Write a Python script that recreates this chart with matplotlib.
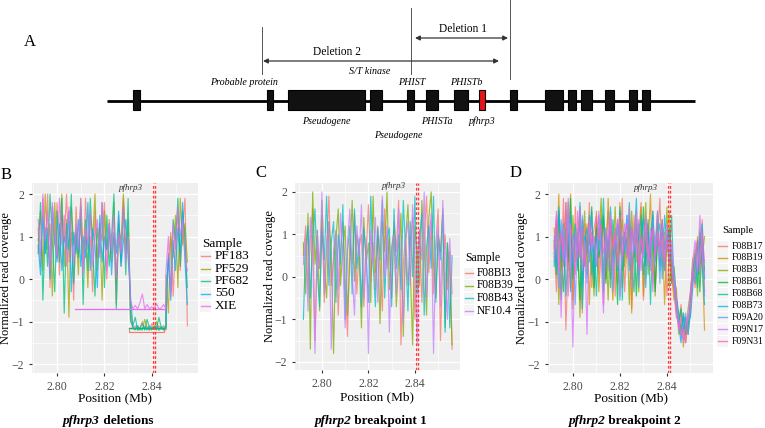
import numpy as np
import matplotlib
matplotlib.use("Agg")
import matplotlib.pyplot as plt
from matplotlib.patches import Rectangle

plt.rcParams['font.family'] = ['Liberation Serif', 'DejaVu Serif']

# ---------------- Panel A (schematic, layout units) ----------------
gene_start = [133, 267, 288, 370, 407, 426, 454, 479, 510, 545, 568, 581, 605, 629, 642]
gene_end   = [140, 273, 365, 382, 414, 438, 468, 485, 517, 563, 576, 592, 614, 637, 650]
gene_red   = [False]*7 + [True] + [False]*7
labels_above = [("Probable protein", 244), ("S/T kinase", 370), ("PHIST", 412), ("PHISTb", 466)]
labels_below = [("Pseudogene", 326, 121), ("PHISTa", 437, 121), ("pfhrp3", 482, 121), ("Pseudogene", 398, 135)]

# ---------------- Panel B: pfhrp3 deletions ----------------
B_samples = ["PF183", "PF529", "PF682", "550", "XIE"]
B_colors = ["#F8766D", "#A3A500", "#00BF7D", "#00B0F6", "#E76BF3"]
B_left_start, B_del_start, B_right_start, B_step = 2.792, 2.832, 2.846, 0.001
B_left = [
    [1.2, 0.3, 1.9, 0.6, 2.0, -0.2, 1.4, 0.8, 1.8, 0.1, 1.5, 0.9, 2.0, 0.4, 1.1, -0.5, 1.7, 0.6, 1.3, 0.2, 1.9, 0.7, 1.0, -0.3, 1.6, 0.5, 1.2, 0.9, 1.8, 0.0, 1.4, 0.6, 1.0, -0.6, 1.5, 0.3, 1.9, 0.8, 1.1, -0.9],
    [0.9, 1.6, 0.2, 2.0, 0.7, 1.3, -0.4, 1.8, 0.5, 1.1, 2.0, 0.3, 1.4, -0.9, 1.7, 0.8, 1.2, 0.1, 1.9, 0.6, 1.0, -0.2, 1.5, 0.9, 2.0, 0.2, 1.3, -0.5, 1.6, 0.7, 1.1, 0.4, 1.8, -0.1, 1.2, 0.9, 2.0, 0.5, 1.4, -0.7],
    [0.6, 1.8, -0.5, 1.2, 0.3, 2.0, 0.9, -0.3, 1.6, 0.4, 1.9, -0.8, 1.3, 0.7, 2.0, -0.1, 1.1, 0.5, 1.7, -0.6, 1.4, 0.2, 1.9, 0.8, -0.4, 1.2, 0.6, 1.8, -0.2, 1.5, 0.3, 1.0, 2.0, -0.7, 1.3, 0.4, 1.7, 0.1, 1.9, -1.0],
    [0.8, 0.1, 1.5, 0.6, 1.2, 0.0, 1.7, 0.9, 0.4, 1.3, 0.2, 1.0, 0.7, 1.6, -0.3, 1.1, 0.6, 1.4, 0.3, 1.0, 0.5, 1.8, 0.2, 1.2, 0.8, -0.2, 1.5, 0.4, 1.0, 0.7, 1.3, 0.1, 1.1, 0.6, 1.6, 0.3, 0.9, 1.4, 0.5, -0.4],
    [1.4, 0.6, 2.0, 0.9, 1.6, 0.2, 1.8, 1.1, 0.5, 1.9, 0.8, 1.5, 0.3, 1.7, 1.0, 0.4, 1.3, 0.7, 1.9, 0.1, 1.2, 0.8, 1.6, 0.3, 1.0, 1.4, 0.5, 1.8, 0.9, 0.2, 1.3, 0.7, 1.5, 0.0, 1.1, 0.6, 1.7, 0.4, 1.0, -0.5],
]
B_del = [
    [-1.18, -1.1, -1.2, -1.15, -1.0, -1.18, -1.12, -1.2, -1.05, -1.17, -1.2, -1.1, -1.18, -1.15, -1.2],
    [-1.15, -1.2, -1.1, -1.18, -1.2, -0.95, -1.15, -1.2, -1.12, -1.18, -1.0, -1.2, -1.15, -1.1, -1.18],
    [-1.1, -0.9, -1.2, -1.15, -1.05, -1.2, -0.95, -1.15, -1.2, -1.1, -1.18, -0.9, -1.15, -1.2, -1.1],
    [-1.12, -1.18, -1.1, -1.2, -1.15, -1.12, -1.2, -1.1, -1.18, -1.15, -1.1, -1.2, -1.12, -1.18, -1.15],
    [-0.7, -0.62, -0.7, -0.55, -0.35, -0.7, -0.6, -0.7, -0.65, -0.7, -0.58, -0.7, -0.68, -0.6, -0.7],
]
B_right = [
    [-0.6, 0.4, 1.1, -0.4, 0.8, 1.6, 0.2, 1.2, 1.9, -1.1],
    [0.1, -0.8, 1.0, 0.5, 1.5, -0.2, 1.9, 0.8, 1.3, 0.4],
    [-0.9, 0.6, -0.3, 1.4, 0.9, 1.9, 0.3, 1.6, 0.9, -0.2],
    [-0.3, 0.5, -0.5, 0.9, 0.2, 1.2, 0.6, 1.8, 0.4, -0.6],
    [0.2, 1.0, -0.4, 1.3, 0.7, 1.7, 1.0, 1.4, 0.5, 0.2],
]
B_xie_segment = (2.8075, 2.8455, -0.71)
B_del_rect = (2.8305, 2.845, -1.24, -1.15)
B_del_level = -1.16

# ---------------- Panel C: pfhrp2 breakpoint 1 ----------------
C_samples = ["F08BI3", "F08B39", "F08B43", "NF10.4"]
C_colors = ["#F8766D", "#7CAE00", "#00BFC4", "#C77CFF"]
C_start, C_step = 2.792, 0.001
C_values = [
    [0.5, 1.2, -0.3, 0.9, 1.6, -1.5, 0.7, 0.2, 1.4, -0.6, 0.8, 1.9, -0.2, 0.4, 1.1, -0.9, 0.6, 1.3, 0.0, -1.4, 0.9, 0.3, 1.5, -0.4, 0.7, 1.0, -0.7, 0.5, 1.7, -0.1, 0.8, -0.3, 1.2, 0.4, -0.8, 1.6, 0.2, 0.9, -0.5, 1.3, 0.6, 1.8, -1.6, 0.3, 1.0, -0.2, 0.7, 1.4, -1.0, 0.5, 1.1, -0.6, 0.9, 1.9, 0.1, 1.3, -0.4, 0.8, 1.6, -1.5, 0.4, 1.0, -0.3, 0.6, -1.7],
    [0.8, -0.4, 1.5, -1.7, 2.0, 0.3, 1.1, -0.8, 1.8, 0.2, -0.5, 1.3, 0.6, -1.8, 0.9, 1.6, -0.2, 0.7, 1.2, -0.9, 0.4, 1.8, -0.1, 1.0, 0.5, -1.2, 1.4, 0.3, 0.8, -0.6, 1.9, 0.1, 0.9, -1.1, 1.3, 0.6, 2.0, -0.3, 0.7, 1.1, -0.7, 0.4, 1.5, -1.4, 0.9, 1.7, 0.2, -1.6, 1.2, 0.5, -0.2, 1.8, 0.7, -0.9, 1.4, 2.0, 0.3, -0.5, 1.0, 0.6, 1.6, -1.2, 0.8, 0.1, -1.6],
    [-1.0, 0.7, 1.2, -0.5, 0.9, 1.6, 0.1, -0.7, 1.1, 0.4, 1.9, -0.2, 0.8, 1.3, -0.6, 1.0, 0.3, 1.7, -1.0, 0.6, 1.2, -0.4, 1.6, 0.2, 0.9, -0.7, 1.15, 0.5, -0.6, 1.9, 0.3, -0.7, 1.15, 0.4, 1.8, -0.5, 0.9, 1.15, -0.7, 1.6, 0.2, 1.0, -0.3, 1.8, 0.6, -0.8, 1.3, 0.0, 1.9, -0.4, 0.9, 1.5, -0.9, 0.7, 1.2, 0.2, 1.9, -0.6, 1.0, 0.4, 1.5, -1.3, 0.8, -1.2, 0.5],
    [0.3, 0.9, -0.8, 1.4, 0.5, -1.8, 1.1, 0.2, 2.0, -0.4, 0.7, 1.3, -1.7, 0.6, 1.0, -0.3, 1.5, 0.4, -1.2, 0.8, 1.6, 0.1, -0.9, 1.2, 0.5, 1.7, -0.5, 0.9, -1.8, 1.1, 0.3, 1.4, -0.6, 0.8, 1.9, 0.0, 1.2, -1.3, 0.6, 1.0, -0.4, 1.6, 0.3, -1.1, 0.9, 1.3, -0.2, 1.7, 0.5, -1.6, 1.1, 0.4, 2.0, -0.5, 0.8, 1.5, -1.8, 0.6, 1.2, -0.7, 1.8, 0.2, -1.0, 0.9, -0.4],
]

# ---------------- Panel D: pfhrp2 breakpoint 2 ----------------
D_samples = ["F08B17", "F08B19", "F08B3", "F08B61", "F08B68", "F08B73", "F09A20", "F09N17", "F09N31"]
D_colors = ["#F8766D", "#D39200", "#93AA00", "#00BA38", "#00C19F", "#00B9E3", "#619CFF", "#DB72FB", "#FF61C3"]
D_start, D_step = 2.792, 0.001
D_values = [
    [0.8, -0.3, 1.4, 0.2, 1.9, -1.2, 0.6, 1.1, -0.5, 1.7, 0.3, 0.9, -0.8, 1.3, 0.5, 1.8, -0.2, 0.7, 1.2, 0.1, 1.5, -0.6, 0.9, 1.6, 0.0, 1.1, -0.4, 1.4, 0.6, 1.9, -0.3, 0.8, 1.2, -0.7, 1.5, 0.4, 1.0, 1.8, -0.5, 0.7, 1.3, 0.2, 1.6, -0.2, 0.9, 1.9, 0.3, 1.1, -0.4, 0.6, 0.2, -0.3, -0.8, -1.1, -0.6, -1.4, -0.9, -1.2, -0.5, 0.3, -0.2, 0.8, 0.1, 1.4, -0.3],
    [1.2, 0.4, 2.0, -0.4, 0.9, 1.5, 0.2, 2.0, -0.7, 1.0, 0.5, 1.7, -0.1, 0.8, 1.3, -0.6, 1.1, 0.4, 1.6, -0.3, 0.7, 1.4, 0.0, 1.9, 0.6, -0.5, 1.2, 0.3, 1.8, -0.2, 1.0, 0.5, 1.5, -0.8, 0.9, 1.3, 0.2, 1.7, -0.4, 1.1, 0.6, 2.0, -0.1, 0.8, 1.4, 0.3, 1.2, -0.6, 0.9, 1.6, 0.1, -0.5, -0.2, -1.3, -0.7, -1.6, -1.0, -1.3, -0.4, 0.5, -0.1, 1.0, 0.3, 0.6, -1.2],
    [0.5, 1.3, -0.6, 1.0, 0.3, 1.8, 0.7, -0.2, 1.5, 0.4, 1.1, -0.9, 0.8, 1.6, 0.1, 1.2, 0.5, -0.4, 1.4, 0.8, 1.9, 0.2, 1.0, -0.5, 1.3, 0.6, 1.7, -0.1, 0.9, 1.4, 0.3, 1.1, -0.6, 1.6, 0.5, 1.0, -0.3, 1.2, 0.7, 1.8, 0.1, 0.9, 1.3, -0.4, 1.5, 0.6, 1.0, 0.2, 1.7, -0.2, 0.4, 0.0, -0.6, -0.9, -1.3, -0.8, -1.5, -0.7, -0.3, 0.2, 0.7, -0.4, 1.2, 0.5, 1.0],
    [0.9, 0.1, 1.6, 0.6, -0.3, 1.2, 0.4, 1.9, 0.0, 1.1, 0.7, -0.5, 1.4, 0.3, 1.0, 0.8, 1.7, -0.2, 1.2, 0.5, 0.9, 1.5, -0.1, 0.7, 1.3, 0.4, 1.0, -0.6, 1.6, 0.2, 1.1, 0.8, 1.4, 0.0, 1.0, -0.4, 1.3, 0.6, 1.7, 0.3, 1.1, 0.5, 1.5, -0.3, 1.0, 0.7, 1.4, 0.2, 0.9, 1.2, -0.1, 0.3, -0.4, -0.8, -1.2, -0.9, -1.3, -1.1, -0.6, 0.0, 0.4, 0.9, -0.3, 0.8, 0.2],
    [0.3, 1.4, 0.7, -0.5, 1.1, 0.5, 1.8, -0.3, 0.9, 1.3, 0.2, 1.6, -0.7, 1.0, 0.6, 1.5, 0.1, 0.8, -0.4, 1.2, 0.7, 1.9, 0.3, 1.0, -0.2, 1.4, 0.8, 0.2, 1.7, -0.5, 1.1, 0.6, 1.8, 0.4, -0.3, 1.2, 0.9, 1.5, 0.1, 0.8, 1.4, -0.6, 1.0, 0.5, 1.6, 0.2, 1.3, 0.7, 1.0, 0.4, 1.5, -0.2, -0.5, -1.0, -0.7, -1.2, -0.9, -1.3, -0.8, 0.1, 0.6, -0.2, 1.1, 0.3, -0.6],
    [1.0, 0.2, 1.7, 0.5, 1.3, -0.4, 0.9, 1.5, 0.3, 1.1, 0.6, 1.8, -0.2, 0.8, 1.2, 0.4, 1.6, 0.0, 1.0, 0.7, 1.4, -0.3, 1.1, 0.5, 1.7, 0.2, 0.9, 1.3, -0.5, 1.0, 0.6, 1.5, 0.3, 1.2, 0.8, 1.9, 0.1, 0.9, 1.4, -0.2, 1.1, 0.7, 1.6, 0.4, 1.0, 1.3, 0.0, 1.5, 0.8, 1.1, 0.5, 0.2, -0.7, -1.1, -1.5, -0.8, -1.2, -1.0, -0.9, -0.2, 0.5, 0.1, 0.9, 1.3, 0.0],
    [0.6, 1.1, -0.2, 1.4, 0.4, 0.9, 1.6, 0.2, 1.0, -0.6, 1.2, 0.5, 1.5, 0.8, -0.1, 1.3, 0.6, 1.0, 0.3, 1.5, 0.9, 0.1, 1.2, 0.6, 1.6, -0.3, 1.0, 0.7, 1.3, 0.4, 0.9, 1.5, 0.2, 1.1, 0.6, 1.4, -0.2, 1.0, 0.5, 1.2, 0.8, 0.3, 1.4, 0.7, 1.1, -0.1, 1.3, 0.6, 1.0, 0.3, 0.8, -0.1, -0.6, -0.9, -1.4, -1.1, -0.8, -1.3, -0.6, 0.2, -0.1, 0.7, 0.4, 1.0, -0.4],
    [0.4, 1.6, 0.8, -0.9, 1.2, 0.3, 1.9, 0.6, -1.6, 1.1, 0.5, 1.7, 0.2, 0.9, -1.3, 1.4, 0.7, 1.0, 0.3, 1.6, 0.5, -0.8, 1.2, 0.9, 1.5, 0.1, 1.0, 1.4, -0.4, 0.8, 1.3, 0.5, 1.7, -0.2, 1.1, 0.6, 1.4, 0.2, 0.9, 1.5, 0.4, 1.2, -0.3, 0.8, 1.6, 0.5, 1.0, 0.2, 1.3, 0.6, 0.9, 0.1, -0.4, -1.2, -0.9, -1.5, -1.1, -0.8, -0.3, 0.4, 0.9, 0.2, 1.5, 0.6, 0.1],
    [0.7, 1.5, 0.2, 1.1, 0.6, 1.8, -0.4, 1.3, 0.8, 0.1, 1.6, 0.5, 1.2, 0.3, 0.9, 1.4, 0.8, 1.2, 1.5, 0.9, 1.3, 0.6, 1.0, 0.2, 1.4, 0.7, 1.1, 0.3, 1.5, 0.5, 1.0, 1.3, 0.4, 1.2, 0.8, 1.6, 0.2, 1.0, 0.6, 1.4, 0.3, 0.9, 1.2, 0.5, 1.1, 0.7, 1.4, 0.4, 0.9, 0.5, 0.2, -0.2, -0.9, -1.0, -1.3, -1.2, -1.5, -0.9, -0.7, 0.0, 0.5, 0.9, 0.2, 1.1, 0.4],
]

pfhrp3_bounds = [2.8403, 2.8413]
x_ticks = [2.80, 2.82, 2.84]
y_ticks = [-2, -1, 0, 1, 2]

W, H = 765, 428
fig = plt.figure(figsize=(W/100, H/100), dpi=100)
fig.patch.set_facecolor("white")

ov = fig.add_axes([0, 0, 1, 1])
ov.set_xlim(0, W); ov.set_ylim(H, 0); ov.axis("off")

# ---- panel A drawing ----
ov.text(30, 42, "A", fontsize=12, va="center", ha="center")
ov.plot([107, 695], [101, 101], color="black", lw=2, solid_capstyle="butt", zorder=1)
for s, e, r in zip(gene_start, gene_end, gene_red):
    ov.add_patch(Rectangle((s, 90), e - s, 20, facecolor="#E8141C" if r else "#111111",
                           edgecolor="black", lw=0.8, zorder=2))
for txt, x in labels_above:
    yy = 71 if txt == "S/T kinase" else 82
    ov.text(x, yy, txt, fontsize=7.2, style="italic", ha="center", va="center")
for txt, x, y in labels_below:
    ov.text(x, y, txt, fontsize=7.2, style="italic", ha="center", va="center")
for x, y0, y1 in [(262.5, 27, 74), (411.5, 8, 74), (510.5, 0, 79)]:
    ov.plot([x, x], [y0, y1], color="#555555", lw=0.7)
for x0, x1, y, lab, lx in [(415, 508, 38, "Deletion 1", 463), (263, 499, 61, "Deletion 2", 337)]:
    ov.annotate("", xy=(x1, y), xytext=(x0, y),
                arrowprops=dict(arrowstyle="<|-|>", color="#333333", lw=0.9, mutation_scale=7,
                                shrinkA=0, shrinkB=0))
    ov.text(lx, y - 9, lab, fontsize=8.3, ha="center", va="center")

PANEL_BG = "#EFEFEF"

def style_axes(ax, xlim, ylim):
    ax.set_facecolor(PANEL_BG)
    ax.set_xlim(*xlim); ax.set_ylim(*ylim)
    ax.set_xticks(x_ticks)
    ax.set_xticklabels([f"{t:.2f}" for t in x_ticks])
    ax.set_yticks(y_ticks)
    ax.set_yticklabels(["\u22122", "\u22121", "0", "1", "2"])
    ax.set_xticks([2.79, 2.81, 2.83, 2.85], minor=True)
    ax.set_yticks([-1.5, -0.5, 0.5, 1.5], minor=True)
    ax.grid(True, which="major", color="white", lw=0.9)
    ax.grid(True, which="minor", color="white", lw=0.45)
    ax.set_axisbelow(True)
    for sp in ax.spines.values():
        sp.set_visible(False)
    ax.tick_params(which="major", length=2.5, color="#333333", labelsize=8.5, labelcolor="#4D4D4D", pad=3)
    ax.tick_params(which="minor", length=0)
    ax.set_xlabel("Position (Mb)", fontsize=9.5)
    ax.set_ylabel("Normalized read coverage", fontsize=9)
    for xv in pfhrp3_bounds:
        ax.axvline(xv, color="#FF3B3B", ls=(0, (2, 1.5)), lw=1.0, zorder=5)
    ax.text(2.831, 2.14, "pfhrp3", style="italic", fontsize=6.5, ha="center", va="center", color="#333333")

def px_rect(x0, y0, x1, y1):
    return [x0 / W, 1 - y1 / H, (x1 - x0) / W, (y1 - y0) / H]

LW, ALPHA = 0.85, 0.75

# ---- Panel B ----
axB = fig.add_axes(px_rect(32, 183, 198, 373))
style_axes(axB, (2.7894, 2.8595), (-2.21, 2.26))
for name, col, l, d, r in zip(B_samples, B_colors, B_left, B_del, B_right):
    xs = np.concatenate([B_left_start + B_step * np.arange(len(l)),
                         B_del_start + B_step * np.arange(len(d)),
                         B_right_start + B_step * np.arange(len(r))])
    ys = np.concatenate([l, d, r])
    axB.plot(xs, ys, color=col, lw=LW, alpha=ALPHA)
x0, x1, lev = B_xie_segment
axB.plot([x0, x1], [lev, lev], color=B_colors[4], lw=0.9)
rx0, rx1, ry0, ry1 = B_del_rect
axB.add_patch(Rectangle((rx0, ry0), rx1 - rx0, ry1 - ry0, fill=False, edgecolor=B_colors[0], lw=0.8))
axB.plot([rx0, rx1], [B_del_level, B_del_level], color=B_colors[2], lw=1.0)
axB.yaxis.set_label_coords(-0.12, 0.5)
axB.xaxis.set_label_coords(0.5, -0.1)

# ---- Panel C ----
axC = fig.add_axes(px_rect(295, 183, 460, 370))
style_axes(axC, (2.7884, 2.8594), (-2.19, 2.21))
for name, col, v in zip(C_samples, C_colors, C_values):
    axC.plot(C_start + C_step * np.arange(len(v)), v, color=col, lw=LW, alpha=ALPHA)
axC.yaxis.set_label_coords(-0.115, 0.5)
axC.xaxis.set_label_coords(0.5, -0.115)

# ---- Panel D ----
axD = fig.add_axes(px_rect(548, 183, 713, 373))
style_axes(axD, (2.7894, 2.8596), (-2.21, 2.26))
for name, col, v in zip(D_samples, D_colors, D_values):
    axD.plot(D_start + D_step * np.arange(len(v)), v, color=col, lw=LW, alpha=ALPHA)
axD.yaxis.set_label_coords(-0.12, 0.5)
axD.xaxis.set_label_coords(0.5, -0.1)

# ---- legends (manual) ----
def draw_legend(x, ytitle, ys, names, cols, fs, tfs, lx0, lx1, tx):
    ov.text(x, ytitle, "Sample", fontsize=tfs, va="center", ha="left")
    for y, n, c in zip(ys, names, cols):
        ov.add_patch(Rectangle((lx0 - 1, y - 5.5), lx1 - lx0 + 2, 11, facecolor="#F4F4F4", edgecolor="none"))
        ov.plot([lx0, lx1], [y, y], color=c, lw=1.0, alpha=0.8)
        ov.text(tx, y, n, fontsize=fs, va="center", ha="left")

draw_legend(202, 244, [256, 268.5, 281, 293.5, 306], B_samples, B_colors, 9.5, 9.5, 201, 210, 215)
draw_legend(465, 258, [273, 285.5, 298, 310.5], C_samples, C_colors, 8.3, 8.5, 465, 473, 477)
draw_legend(722, 230, [246 + 11.9 * i for i in range(9)], D_samples, D_colors, 7, 7.5, 718, 727, 732)

# ---- panel letters ----
for lab, x, y in [("B", 6, 175), ("C", 261, 173), ("D", 516, 173)]:
    ov.text(x, y, lab, fontsize=12, ha="center", va="center")

# ---- panel titles (bold italic gene + bold text) ----
fig.canvas.draw()
renderer = fig.canvas.get_renderer()
for gene, rest, cx in [("pfhrp3", " deletions", 108), ("pfhrp2", " breakpoint 1", 371), ("pfhrp2", " breakpoint 2", 625)]:
    t1 = ov.text(0, 421, gene, fontsize=9.5, fontweight="bold", style="italic", va="center", ha="left")
    t2 = ov.text(0, 421, rest, fontsize=9.5, fontweight="bold", va="center", ha="left")
    w1 = t1.get_window_extent(renderer).width
    w2 = t2.get_window_extent(renderer).width
    start = cx - (w1 + w2) / 2
    t1.set_x(start)
    t2.set_x(start + w1)

fig.savefig("out.png", dpi=100, facecolor="white")
